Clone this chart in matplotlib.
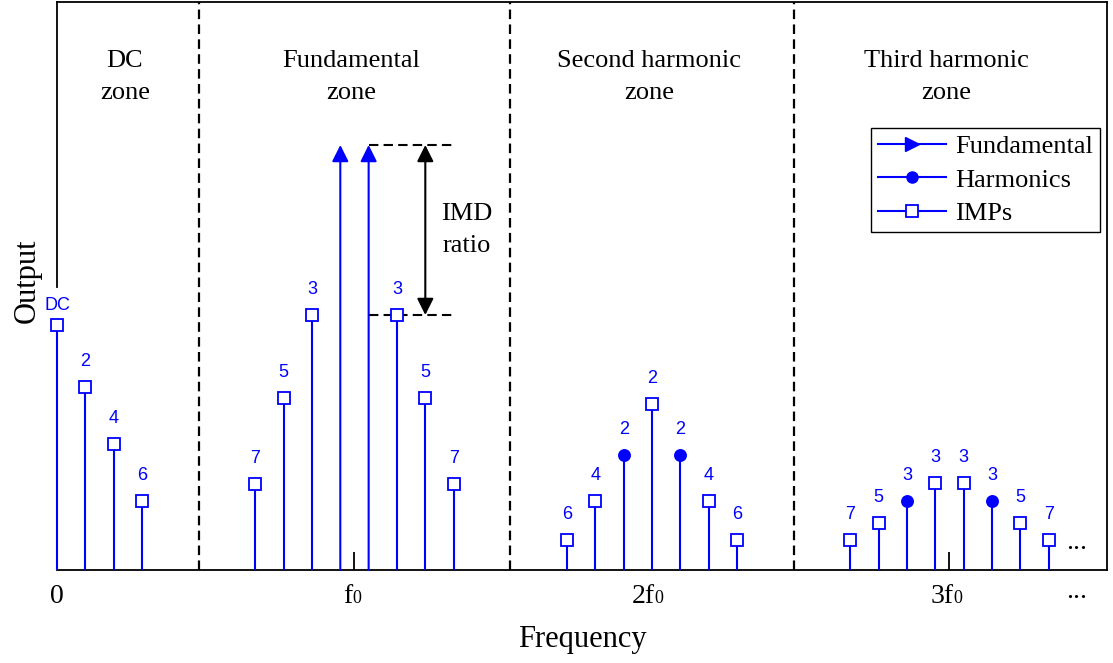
import matplotlib.pyplot as plt
from matplotlib.lines import Line2D

plt.rcParams['font.family'] = ['Liberation Serif', 'DejaVu Serif']
plt.rcParams['axes.linewidth'] = 1.3

BLUE = '#0000ff'

# one frequency step between neighbouring products, f0 sits between the two tones
f0 = 10.5

dc_x = [0, 1, 2, 3]
dc_y = [245, 183, 126, 69]
dc_lbl = ['DC', '2', '4', '6']

tone_x = [10, 11]
tone_y = [425, 425]

imp1_x = [7, 8, 9, 12, 13, 14]
imp1_y = [86, 172, 255, 255, 172, 86]
imp1_lbl = ['7', '5', '3', '3', '5', '7']

harm2_x = [20, 22]
harm2_y = [115, 115]
harm2_lbl = ['2', '2']
imp2_x = [18, 19, 21, 23, 24]
imp2_y = [30, 69, 166, 69, 30]
imp2_lbl = ['6', '4', '2', '4', '6']

harm3_x = [30, 33]
harm3_y = [69, 69]
harm3_lbl = ['3', '3']
imp3_x = [28, 29, 31, 32, 34, 35]
imp3_y = [30, 47, 87, 87, 47, 30]
imp3_lbl = ['7', '5', '3', '3', '5', '7']

zone_edges = [5, 16, 26]
zone_x = [2.4, 10.4, 20.9, 31.4]
zone_names = ['DC\nzone', 'Fundamental\nzone', 'Second harmonic\nzone', 'Third harmonic\nzone']

tick_x = [0, f0, 2 * f0, 3 * f0]
tick_base = ['f', '2f', '3f']
tick_split = [-1.5, 2.0, 3.0]   # pt, where the small "0" starts

fig = plt.figure(figsize=(11.13, 6.63), dpi=100)
ax = fig.add_axes([0.0512, 0.1403, 0.9434, 0.8567])
ax.set_xlim(0, 37.06)
ax.set_ylim(0, 568)


def stems(xs, ys, labels, marker='s', fc='white', ms=8.5, off=18):
    ax.vlines(xs, 0, ys, color=BLUE, lw=1.5, zorder=3, clip_on=False)
    ax.plot(xs, ys, ls='none', marker=marker, ms=ms, mfc=fc, mec=BLUE,
            mew=1.3, zorder=5, clip_on=False)
    for x, y, s in zip(xs, ys, labels):
        ax.annotate(s, (x, y), xytext=(0, off), textcoords='offset points',
                    ha='center', va='center', color=BLUE, fontsize=13,
                    family='Liberation Sans')


stems(dc_x[:1], dc_y[:1], dc_lbl[:1], off=14)
stems(dc_x[1:], dc_y[1:], dc_lbl[1:])
stems(imp1_x, imp1_y, imp1_lbl)
stems(imp2_x, imp2_y, imp2_lbl)
stems(imp3_x, imp3_y, imp3_lbl)
stems(harm2_x, harm2_y, harm2_lbl, marker='o', fc=BLUE, ms=8)
stems(harm3_x, harm3_y, harm3_lbl, marker='o', fc=BLUE, ms=8)

# the two input tones
for x, y in zip(tone_x, tone_y):
    ax.annotate('', xy=(x, y), xytext=(x, 0),
                arrowprops=dict(arrowstyle='-|>,head_length=0.5,head_width=0.25',
                                mutation_scale=20, color=BLUE, lw=1.5,
                                shrinkA=0, shrinkB=0), zorder=3)

# IMD ratio marker
ax.hlines([tone_y[1], imp1_y[3]], tone_x[1], 14.0, colors='k',
          linestyles=(0, (4.5, 2.5)), lw=1.5, zorder=2)
ax.annotate('', xy=(13, tone_y[1]), xytext=(13, imp1_y[3]),
            arrowprops=dict(arrowstyle='<|-|>,head_length=0.5,head_width=0.25',
                            mutation_scale=20, color='k', lw=1.5,
                            shrinkA=0, shrinkB=0))
ax.text(14.45, 340, 'IMD\nratio', fontsize=19, ha='center', va='center',
        linespacing=1.55)

# zone separators and titles
for x in zone_edges:
    ax.axvline(x, color='k', lw=1.6, ls=(0, (4.3, 2.4)), zorder=1)
for x, s in zip(zone_x, zone_names):
    ax.text(x, 493, s, fontsize=19, ha='center', va='center', linespacing=1.55)

# axes frame and ticks
ax.spines['left'].set_bounds(283, 568)
ax.set_yticks([])
ax.set_xticks(tick_x, [''] * len(tick_x))
ax.tick_params(axis='x', direction='in', length=13, width=1.3)

lab_kw = dict(xycoords=('data', 'axes fraction'), textcoords='offset points',
              va='baseline')
ax.annotate('0', (0, 0), xytext=(0, -24), ha='center', fontsize=20, **lab_kw)
for x, s, dx in zip(tick_x[1:], tick_base, tick_split):
    ax.annotate(s, (x, 0), xytext=(dx, -24), ha='right', fontsize=20, **lab_kw)
    ax.annotate('0', (x, 0), xytext=(dx, -24), ha='left', fontsize=13, **lab_kw)
ax.annotate('...', (36, 0), xytext=(0, -20), ha='center', fontsize=20, **lab_kw)
ax.text(36, 21, '...', fontsize=20, ha='center', va='baseline')

ax.set_xlabel('Frequency', fontsize=22, va='center')
ax.xaxis.set_label_coords(0.5, -0.123)
ax.set_ylabel('Output', fontsize=22, va='center')
ax.yaxis.set_label_coords(-0.028, 0.51)

handles = [
    Line2D([], [], color=BLUE, lw=1.5, marker='>', ms=10, markevery=[2]),
    Line2D([], [], color=BLUE, lw=1.5, marker='o', ms=8, markevery=[2]),
    Line2D([], [], color=BLUE, lw=1.5, marker='s', ms=8, mfc='white',
           mew=1.3, markevery=[2]),
]
leg = ax.legend(handles, ['Fundamental', 'Harmonics', 'IMPs'], loc='upper right',
                bbox_to_anchor=(0.9933, 0.778), fancybox=False, edgecolor='k',
                framealpha=1, fontsize=19, handlelength=2.6, handletextpad=0.35,
                labelspacing=0.38, borderpad=0.25, borderaxespad=0)
leg.get_frame().set_linewidth(1.0)

fig.savefig('out.png', dpi=100)
